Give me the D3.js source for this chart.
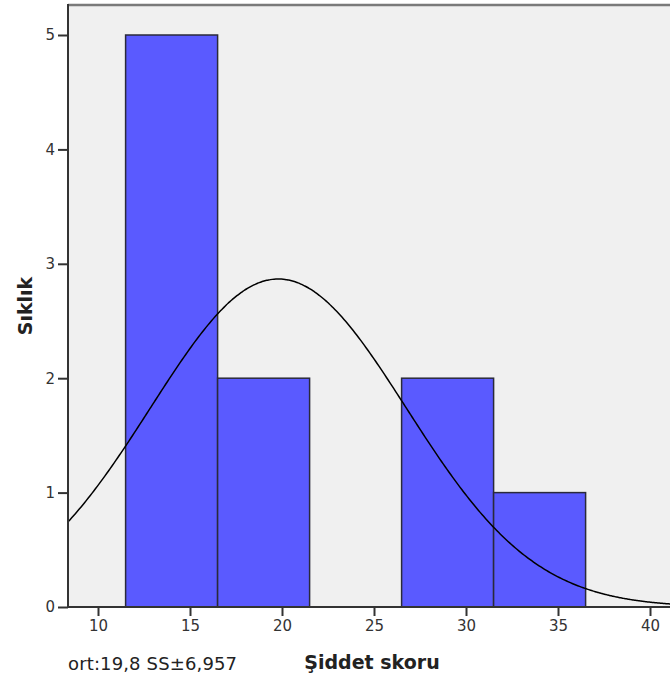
<!DOCTYPE html>
<html><head><meta charset="utf-8">
<script src="https://cdn.jsdelivr.net/npm/d3@7"></script>
<style>body{margin:0;background:#fff}</style>
</head><body>
<svg id="c" width="670" height="680"></svg>
<script>
const binStarts = [11.5, 16.5, 21.5, 26.5, 31.5];
const binWidth = 5;
const counts = [5, 2, 0, 2, 1];
const xTicks = [10, 15, 20, 25, 30, 35, 40];
const yTicks = [0, 1, 2, 3, 4, 5];
const mean = 19.8, sd = 6.957, n = 10;
const xTitle = "Şiddet skoru", yTitle = "Sıklık", note = "ort:19,8 SS±6,957";

const svg = d3.select("#c");
const L = 68, T = 5, B = 607, R = 670;
const x = d3.scaleLinear().domain([10, 40]).range([98, 650]);
const y = d3.scaleLinear().domain([0, 5]).range([B, 35]);
const font = "DejaVu Sans, sans-serif";

svg.append("rect").attr("x", L).attr("y", T).attr("width", R - L + 5).attr("height", B - T)
  .attr("fill", "#f0f0f0");
svg.append("line").attr("x1", L).attr("x2", R).attr("y1", T).attr("y2", T)
  .attr("stroke", "#7a7a7a").attr("stroke-width", 2.5);

const g = svg.append("g");
g.selectAll("rect.bar").data(counts.map((c, i) => ({s: binStarts[i], c})).filter(d => d.c > 0))
  .join("rect").attr("class", "bar")
  .attr("x", d => x(d.s)).attr("width", d => x(d.s + binWidth) - x(d.s))
  .attr("y", d => y(d.c)).attr("height", d => y(0) - y(d.c))
  .attr("fill", "#5a5aff").attr("stroke", "#2a2a3a").attr("stroke-width", 1.5);

const pdf = v => n * binWidth * Math.exp(-0.5 * ((v - mean) / sd) ** 2) / (sd * Math.sqrt(2 * Math.PI));
const xs = d3.range(x.invert(L), x.invert(R) + 0.1, 0.1);
svg.append("path").datum(xs)
  .attr("d", d3.line().x(v => x(v)).y(v => y(pdf(v))).curve(d3.curveBasis))
  .attr("fill", "none").attr("stroke", "#000").attr("stroke-width", 1.5);

const xAxis = svg.append("g").attr("transform", `translate(0,${B})`)
  .call(d3.axisBottom(x).tickValues(xTicks).tickFormat(d3.format("d")).tickSize(9).tickPadding(4).tickSizeOuter(0));
const yAxis = svg.append("g").attr("transform", `translate(${L},0)`)
  .call(d3.axisLeft(y).tickValues(yTicks).tickFormat(d3.format("d")).tickSize(10).tickPadding(3).tickSizeOuter(0));
[xAxis, yAxis].forEach(a => {
  a.select(".domain").remove();
  a.selectAll("line").attr("stroke", "#333").attr("stroke-width", 2);
  a.selectAll("text").attr("fill", "#333").style("font-family", font).style("font-size", "15px");
});
svg.append("line").attr("x1", L).attr("x2", R).attr("y1", B).attr("y2", B).attr("stroke", "#333").attr("stroke-width", 2);
svg.append("line").attr("x1", L).attr("x2", L).attr("y1", T - 1).attr("y2", B).attr("stroke", "#333").attr("stroke-width", 2);

svg.append("text").attr("x", 372).attr("y", 669).attr("text-anchor", "middle")
  .style("font-family", font).style("font-size", "19px").style("font-weight", "bold").attr("fill", "#222").text(xTitle);
svg.append("text").attr("transform", "translate(32,306) rotate(-90)").attr("text-anchor", "middle")
  .style("font-family", font).style("font-size", "19px").style("font-weight", "bold").attr("fill", "#222").text(yTitle);
svg.append("text").attr("x", 68).attr("y", 670).attr("textLength", 169).attr("lengthAdjust", "spacing")
  .style("font-family", font).style("font-size", "18px").attr("fill", "#222").text(note);
</script>
</body></html>
